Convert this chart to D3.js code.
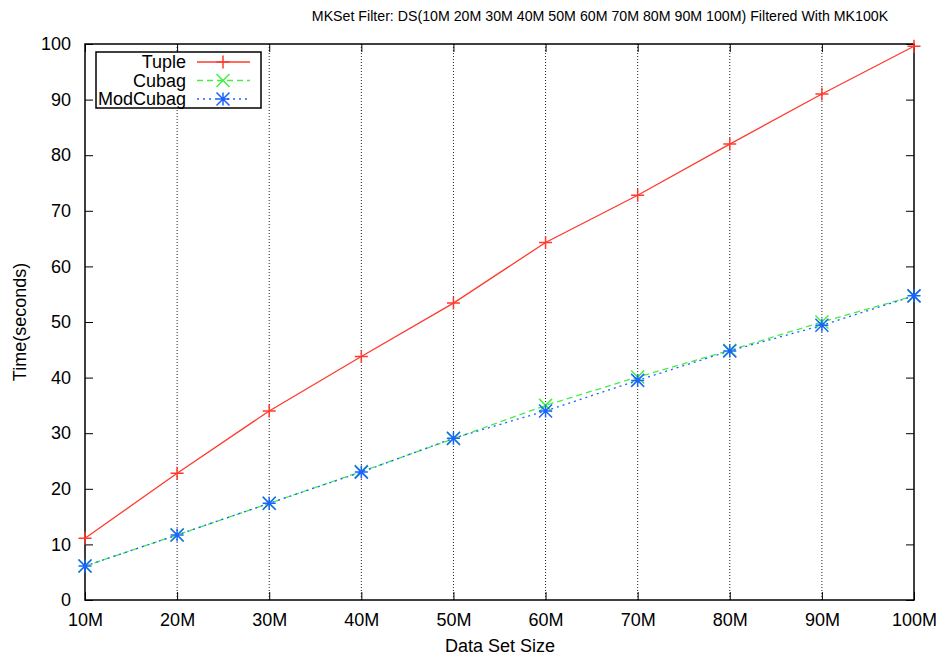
<!DOCTYPE html>
<html>
<head>
<meta charset="utf-8">
<script src="https://cdn.jsdelivr.net/npm/d3@7"></script>
<style>
  body { margin: 0; background: #fff; }
  text { font-family: "Liberation Sans", Arial, sans-serif; fill: #000; }
</style>
</head>
<body>
<div id="chart"></div>
<script>
// data
const sizes = ["10M", "20M", "30M", "40M", "50M", "60M", "70M", "80M", "90M", "100M"];
const tuple = [11.1, 22.8, 34.0, 43.8, 53.4, 64.3, 72.8, 82.0, 91.0, 99.6];
const cubag = [6.1, 11.7, 17.4, 23.1, 29.0, 35.0, 40.1, 44.9, 50.0, 54.7];
const modCubag = [6.1, 11.7, 17.4, 23.0, 29.1, 34.0, 39.5, 44.8, 49.4, 54.7];
const yTicks = [0, 10, 20, 30, 40, 50, 60, 70, 80, 90, 100];

const width = 941, height = 657;
const plotL = 85, plotR = 914, plotT = 44, plotB = 600;

const svg = d3.select("#chart").append("svg")
  .attr("width", width)
  .attr("height", height);

const x = d3.scalePoint().domain(sizes).range([plotL, plotR]);
const y = d3.scaleLinear().domain([0, 100]).range([plotB, plotT]);

// vertical dotted grid
svg.append("g")
  .selectAll("line")
  .data(sizes.slice(1, -1))
  .enter()
  .append("line")
  .attr("x1", d => x(d)).attr("x2", d => x(d))
  .attr("y1", plotT).attr("y2", plotB)
  .attr("stroke", "#222")
  .attr("stroke-width", 1)
  .attr("stroke-dasharray", "1,2");

// axes, ticks pointing inward like gnuplot
const yAxis = svg.append("g")
  .attr("transform", `translate(${plotL},0)`)
  .call(d3.axisLeft(y).tickValues(yTicks).tickSize(-8).tickPadding(14));
const yAxisR = svg.append("g")
  .attr("transform", `translate(${plotR},0)`)
  .call(d3.axisRight(y).tickValues(yTicks).tickSize(-8).tickFormat(""));
const xAxis = svg.append("g")
  .attr("transform", `translate(0,${plotB})`)
  .call(d3.axisBottom(x).tickSize(-8).tickPadding(13));
const xAxisT = svg.append("g")
  .attr("transform", `translate(0,${plotT})`)
  .call(d3.axisTop(x).tickSize(-8).tickFormat(""));

[yAxis, yAxisR, xAxis, xAxisT].forEach(g => {
  g.select(".domain").remove();
  g.selectAll("line").attr("stroke", "#000").attr("stroke-width", 1);
  g.selectAll("text").attr("font-size", 18).attr("font-family", "Liberation Sans, Arial, sans-serif");
});

svg.append("rect")
  .attr("x", plotL).attr("y", plotT)
  .attr("width", plotR - plotL).attr("height", plotB - plotT)
  .attr("fill", "none")
  .attr("stroke", "#000")
  .attr("stroke-width", 1.5);

// series
const series = [
  { name: "Tuple", values: tuple, color: "#ff3a2e", dash: null, mark: "plus" },
  { name: "Cubag", values: cubag, color: "#44ee44", dash: "6,4", mark: "cross" },
  { name: "ModCubag", values: modCubag, color: "#1a63ff", dash: "2,4", mark: "star" }
];

const markPath = (type, r) => {
  const p = `M${-r},0H${r}M0,${-r}V${r}`;
  const c = `M${-r},${-r}L${r},${r}M${-r},${r}L${r},${-r}`;
  if (type === "plus") return p;
  if (type === "cross") return c;
  return p + c;
};

const line = d3.line()
  .x((d, i) => x(sizes[i]))
  .y(d => y(d));

series.forEach(s => {
  svg.append("path")
    .datum(s.values)
    .attr("d", line)
    .attr("fill", "none")
    .attr("stroke", s.color)
    .attr("stroke-width", 1.3)
    .attr("stroke-dasharray", s.dash);

  svg.append("g")
    .selectAll("path")
    .data(s.values)
    .enter()
    .append("path")
    .attr("transform", (d, i) => `translate(${x(sizes[i])},${y(d)})`)
    .attr("d", markPath(s.mark, 6.5))
    .attr("fill", "none")
    .attr("stroke", s.color)
    .attr("stroke-width", 1.5);
});

// legend
const legend = svg.append("g");
legend.append("rect")
  .attr("x", 96).attr("y", 52)
  .attr("width", 165).attr("height", 56)
  .attr("fill", "#fff")
  .attr("stroke", "#000")
  .attr("stroke-width", 1.5);

series.forEach((s, i) => {
  const ly = 62 + i * 18.5;
  legend.append("text")
    .attr("x", 186).attr("y", ly)
    .attr("dy", "0.35em")
    .attr("text-anchor", "end")
    .attr("font-size", 18)
    .text(s.name);
  legend.append("line")
    .attr("x1", 197).attr("x2", 250)
    .attr("y1", ly).attr("y2", ly)
    .attr("stroke", s.color)
    .attr("stroke-width", 1.3)
    .attr("stroke-dasharray", s.dash);
  legend.append("path")
    .attr("transform", `translate(223,${ly})`)
    .attr("d", markPath(s.mark, 6.5))
    .attr("fill", "none")
    .attr("stroke", s.color)
    .attr("stroke-width", 1.5);
});

// titles
svg.append("text")
  .attr("x", 600).attr("y", 21)
  .attr("text-anchor", "middle")
  .attr("font-size", 14.2)
  .text("MKSet Filter: DS(10M 20M 30M 40M 50M 60M 70M 80M 90M 100M) Filtered With MK100K");

svg.append("text")
  .attr("x", 500).attr("y", 652)
  .attr("text-anchor", "middle")
  .attr("font-size", 18)
  .text("Data Set Size");

svg.append("text")
  .attr("transform", `translate(26,${(plotT + plotB) / 2}) rotate(-90)`)
  .attr("text-anchor", "middle")
  .attr("font-size", 18)
  .text("Time(seconds)");
</script>
</body>
</html>
